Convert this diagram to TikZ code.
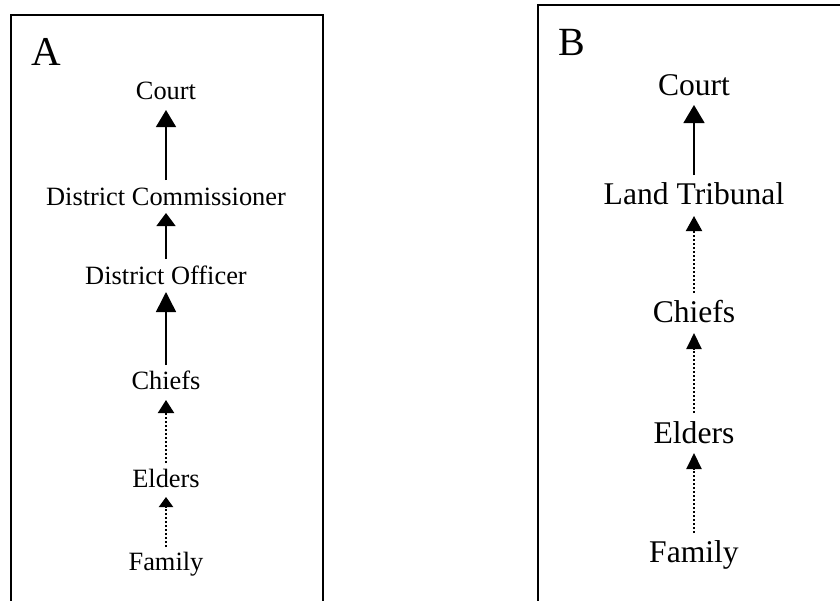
\documentclass[tikz,border=0pt]{standalone}
\usepackage{fontspec}
\setmainfont{Liberation Serif}
\usetikzlibrary{arrows.meta}
\tikzstyle{level_a} = [
    font=\fontsize{26.4}{30}\selectfont,
    anchor=base,
    inner sep=0pt
]
\tikzstyle{level_b} = [
    font=\fontsize{31.6}{36}\selectfont,
    anchor=base,
    inner sep=0pt
]
\tikzstyle{panel_tag} = [
    font=\fontsize{41}{46}\selectfont,
    anchor=base west,
    inner sep=0pt
]
\tikzstyle{frame} = [
    line width=2.2pt
]
\tikzstyle{firm_arrow} = [
    line width=1.5pt,
    -{Triangle[width=20pt, length=18pt]}
]
\tikzstyle{weak_arrow} = [
    line width=2pt,
    dash pattern=on 2pt off 2pt,
    -{Triangle[width=16pt, length=14pt]}
]
\begin{document}
\begin{tikzpicture}[x=1pt, y=-1pt]
\useasboundingbox (0,0) rectangle (840,600);
% panel A
\draw[frame] (11,640) -- (11,15) -- (323,15) -- (323,640);
\node [panel_tag] (tag_a) at (31,65) {A};
\node [level_a] (court_a) at (166,99) {Court};
\node [level_a] (commissioner_a) at (166,205) {District Commissioner};
\node [level_a] (officer_a) at (166,284) {District Officer};
\node [level_a] (chiefs_a) at (166,389) {Chiefs};
\node [level_a] (elders_a) at (166,487) {Elders};
\node [level_a] (family_a) at (166,570) {Family};
\draw [firm_arrow, -{Triangle[width=20pt, length=17pt]}]
    ([yshift=25pt]commissioner_a.base) -- ([yshift=-11pt]court_a.base);
\draw [firm_arrow, -{Triangle[width=19pt, length=13pt]}]
    ([yshift=25pt]officer_a.base) -- ([yshift=-8pt]commissioner_a.base);
\draw [firm_arrow, -{Triangle[width=20pt, length=20pt]}]
    ([yshift=24pt]chiefs_a.base) -- ([yshift=-8pt]officer_a.base);
\draw [weak_arrow, -{Triangle[width=16pt, length=13pt]}]
    ([yshift=24pt]elders_a.base) -- ([yshift=-11pt]chiefs_a.base);
\draw [weak_arrow, -{Triangle[width=14pt, length=10pt]}]
    ([yshift=23pt]family_a.base) -- ([yshift=-10pt]elders_a.base);
% panel B
\draw[frame] (538,640) -- (538,5) -- (860,5);
\node [panel_tag, font=\fontsize{40}{46}\selectfont] (tag_b) at (558,55) {B};
\node [level_b] (court_b) at (694,95) {Court};
\node [level_b] (tribunal_b) at (694,204) {Land Tribunal};
\node [level_b] (chiefs_b) at (694,322) {Chiefs};
\node [level_b] (elders_b) at (694,443) {Elders};
\node [level_b] (family_b) at (694,562) {Family};
\draw [firm_arrow, -{Triangle[width=21pt, length=18pt]}]
    ([yshift=29pt]tribunal_b.base) -- ([yshift=-10pt]court_b.base);
\draw [weak_arrow, -{Triangle[width=16pt, length=15pt]}]
    ([yshift=29pt]chiefs_b.base) -- ([yshift=-12pt]tribunal_b.base);
\draw [weak_arrow, -{Triangle[width=15pt, length=16pt]}]
    ([yshift=30pt]elders_b.base) -- ([yshift=-11pt]chiefs_b.base);
\draw [weak_arrow, -{Triangle[width=15pt, length=16pt]}]
    ([yshift=29pt]family_b.base) -- ([yshift=-10pt]elders_b.base);
\end{tikzpicture}
\end{document}
